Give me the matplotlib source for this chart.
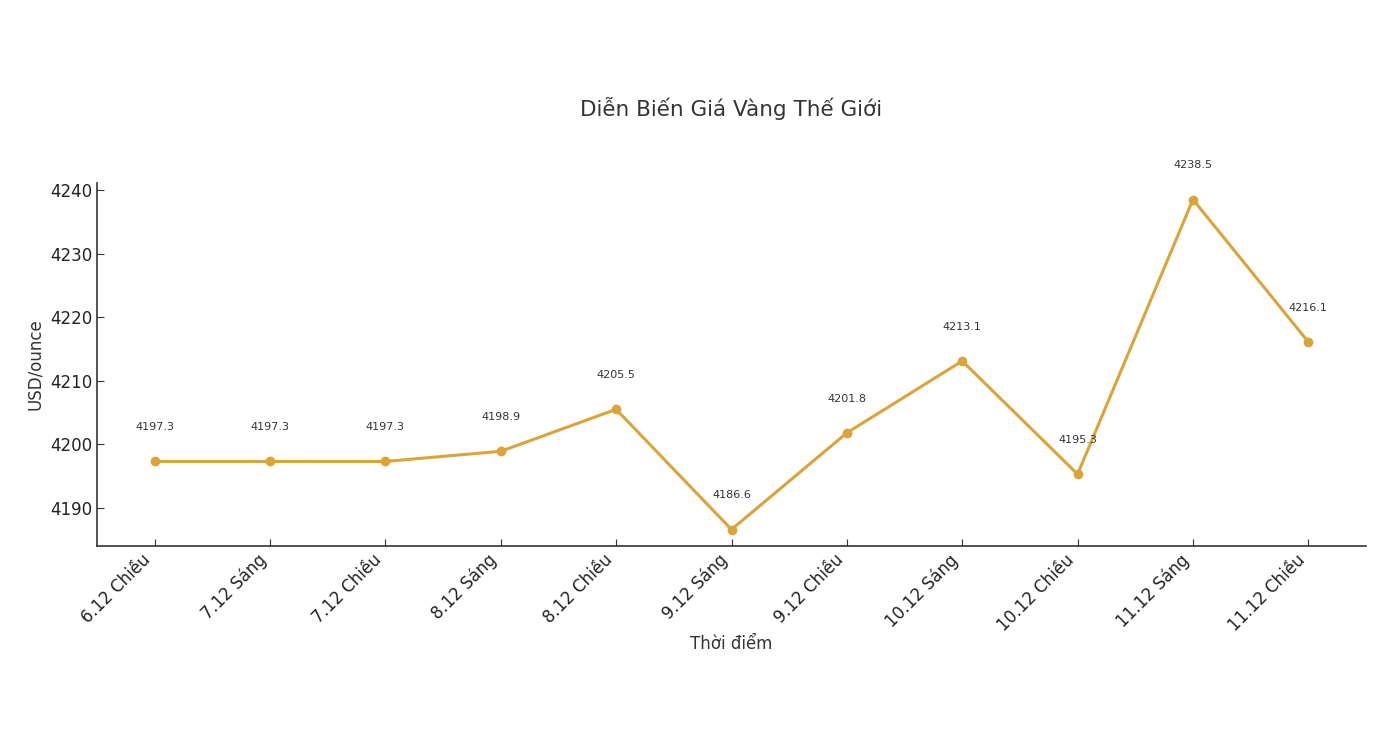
import matplotlib
matplotlib.use('Agg')
import matplotlib.pyplot as plt

times = ['6.12 Chiều', '7.12 Sáng', '7.12 Chiều', '8.12 Sáng', '8.12 Chiều',
         '9.12 Sáng', '9.12 Chiều', '10.12 Sáng', '10.12 Chiều', '11.12 Sáng',
         '11.12 Chiều']
prices = [4197.3, 4197.3, 4197.3, 4198.9, 4205.5, 4186.6, 4201.8, 4213.1,
          4195.3, 4238.5, 4216.1]

plt.rcParams['font.family'] = ['DejaVu Sans']
gold = '#DAA43A'
txt = '#333333'

fig = plt.figure(figsize=(13.78, 7.5), dpi=100)
ax = fig.add_axes([97 / 1378, 1 - 546 / 750, (1366 - 97) / 1378, (546 - 183) / 750])

x = list(range(len(times)))
ax.plot(x, prices, color=gold, linewidth=2.2, marker='o', markersize=6)
for i, v in zip(x, prices):
    ax.text(i, v + 4.6, f'{v}', ha='center', va='bottom', fontsize=8, color=txt)

ax.set_xticks(x)
ax.set_xticklabels(times, rotation=45, ha='right', fontsize=12, color='#222222')
ax.tick_params(axis='y', labelsize=12, labelcolor='#222222')
ax.tick_params(direction='in', length=5, color='#333333')
ax.spines['top'].set_visible(False)
ax.spines['right'].set_visible(False)
for s in ('left', 'bottom'):
    ax.spines[s].set_color('#333333')
    ax.spines[s].set_linewidth(1.2)

ax.set_xlabel('Thời điểm', fontsize=12, color=txt, labelpad=0)
ax.set_ylabel('USD/ounce', fontsize=12, color=txt)
fig.text(731 / 1378, 1 - 108 / 750, 'Diễn Biến Giá Vàng Thế Giới', ha='center', va='center',
         fontsize=15.5, color=txt)

fig.savefig('out.png', dpi=100)
